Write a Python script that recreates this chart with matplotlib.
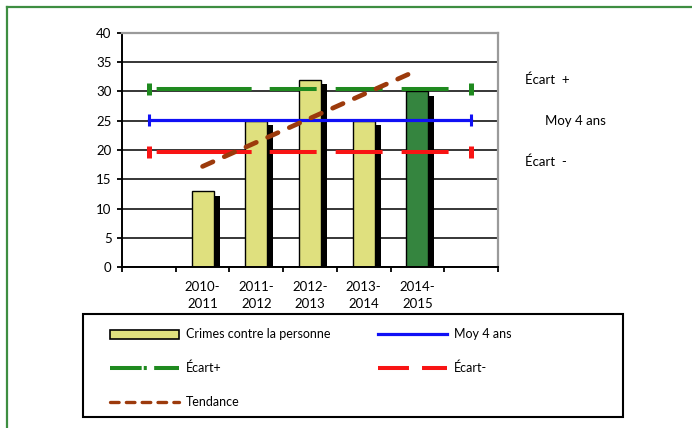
import numpy as np
import matplotlib
matplotlib.use("Agg")
import matplotlib.pyplot as plt
import matplotlib.patheffects as pe
from matplotlib.lines import Line2D
from matplotlib.patches import Rectangle

# data
seasons = ["2010-2011", "2011-2012", "2012-2013", "2013-2014", "2014-2015"]
crimes = [13, 25, 32, 25, 30]
moy_4_ans = 25.2
ecart_plus = 30.4
ecart_moins = 19.7
tendance = [17.2, 33.6]  # first and last season

plt.rcParams['font.family'] = ['Lato', 'DejaVu Sans']
plt.rcParams['lines.scale_dashes'] = False

W, H = 692, 428
fig = plt.figure(figsize=(W / 100, H / 100), dpi=100)
ax = fig.add_axes([122 / W, 1 - 267.3 / H, 376 / W, 234.6 / H])

# slots: one empty slot each side of the seasons
n_slots = len(seasons) + 2
x_season = np.arange(1, len(seasons) + 1)
x_all = np.arange(n_slots)

bar_colors = ["#dfe07e"] * (len(seasons) - 1) + ["#35853f"]
bars = ax.bar(x_season, crimes, width=0.41, color=bar_colors,
              edgecolor="black", linewidth=1.0, zorder=2)
for b in bars:
    b.set_path_effects([pe.SimplePatchShadow(offset=(4.3, -3.4),
                                             shadow_rgbFace="black",
                                             alpha=1.0),
                        pe.Normal()])

# dash pattern of the Excel lines (points)
ecart_dash = (223.4, (68.4, 13, 33.8, 13.7, 33.8, 13.7, 33.8, 18.7))

ax.plot(x_all, [ecart_plus] * n_slots, color="#1f8a1f", lw=2.9,
        linestyle=ecart_dash, marker="|", ms=8, mew=3.6,
        markevery=[0, n_slots - 1], zorder=3)
ax.plot(x_all, [moy_4_ans] * n_slots, color="#1010f5", lw=2.3,
        marker="|", ms=8.6, mew=2.2, markevery=[0, n_slots - 1], zorder=3)
ax.plot(x_all, [ecart_moins] * n_slots, color="#f81414", lw=2.9,
        linestyle=ecart_dash, marker="|", ms=8, mew=3.6,
        markevery=[0, n_slots - 1], zorder=3)
ax.plot([x_season[0], x_season[-1]], tendance, color="#9c3a0c", lw=3.4,
        linestyle=(0, (8.2, 8.9)), dash_capstyle="round", zorder=4)

ax.set_xlim(-0.5, n_slots - 0.5)
ax.set_ylim(0, 40)
ax.set_yticks(np.arange(0, 41, 5))
ax.set_xticks(np.arange(-0.5, n_slots, 1.0))
ax.set_xticklabels([])
ax.set_xticks(x_season, minor=True)
ax.set_xticklabels([s.replace("-", "-\n") for s in seasons], minor=True,
                   fontsize=9.5, linespacing=1.5)
ax.tick_params(axis="x", which="minor", length=0, pad=10)
ax.tick_params(axis="x", which="major", length=3.5, width=1.3,
               direction="out")
ax.tick_params(axis="y", length=3.5, width=1.3, labelsize=9.5, pad=4)

ax.grid(axis="y", color="black", lw=1.1)
ax.set_axisbelow(True)
for side in ["left", "bottom"]:
    ax.spines[side].set_linewidth(1.4)
    ax.spines[side].set_color("black")
for side in ["top", "right"]:
    ax.spines[side].set_linewidth(1.6)
    ax.spines[side].set_color("#9a9a9a")

# labels at right of the plot
fig.text(525 / W, 1 - 80 / H, "Écart  +", fontsize=9.5, va="center")
fig.text(545 / W, 1 - 121 / H, "Moy 4 ans", fontsize=9.5, va="center")
fig.text(525 / W, 1 - 162 / H, "Écart  -", fontsize=9.5, va="center")

# legend
handles = [
    Rectangle((0, 0), 1, 1, facecolor="#dfe07e", edgecolor="black", lw=1.2),
    Line2D([], [], color="#1f8a1f", lw=2.9,
           linestyle=(0, (22.8, 1.5, 2.2, 5.3, 18, 60))),
    Line2D([], [], color="#9c3a0c", lw=2.4, dash_capstyle="round",
           linestyle=(0, (6.2, 5.2))),
    Line2D([], [], color="#1010f5", lw=2.3),
    Line2D([], [], color="#f81414", lw=2.9,
           linestyle=(0, (22.3, 9.4, 18.7, 60))),
]
labels = ["Crimes contre la personne", "Écart+", "Tendance",
          "Moy 4 ans", "Écart-"]
fig.legend(handles, labels, ncol=2, frameon=False, loc="upper left",
           bbox_to_anchor=(110 / W, 1 - 328.5 / H), borderaxespad=0,
           borderpad=0, fontsize=9, handlelength=5.5, handletextpad=0.56,
           labelspacing=1.72, columnspacing=3.8)
fig.add_artist(Rectangle((83 / W, 1 - 417 / H), 540 / W, 103 / H,
                         transform=fig.transFigure, fill=False,
                         edgecolor="black", lw=1.5))

# outer green frame (left and top)
fig.add_artist(Line2D([7 / W, 7 / W], [0, 1 - 7 / H], color="#3e8e41",
                      lw=1.6, transform=fig.transFigure))
fig.add_artist(Line2D([7 / W, 1], [1 - 7 / H, 1 - 7 / H], color="#3e8e41",
                      lw=1.6, transform=fig.transFigure))

fig.savefig("out.png", dpi=100)
